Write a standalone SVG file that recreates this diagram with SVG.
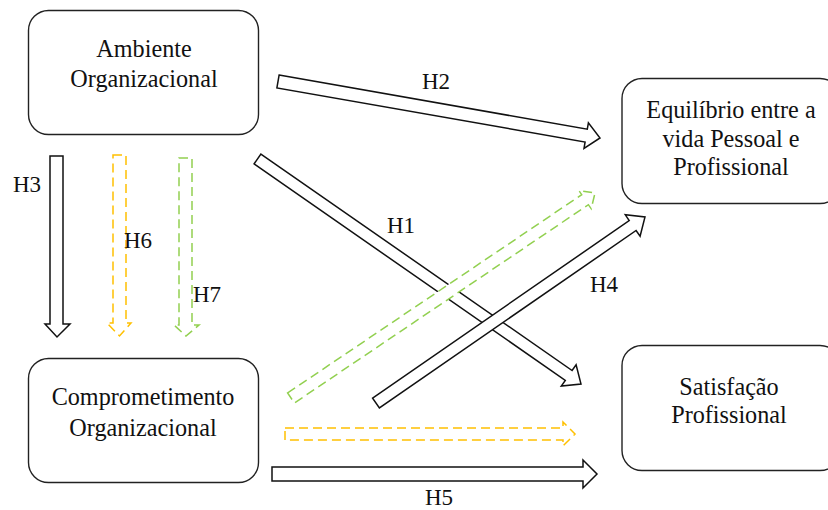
<svg xmlns="http://www.w3.org/2000/svg" width="828" height="510" viewBox="0 0 828 510">
<style>
.box{fill:#fff;stroke:#222;stroke-width:1.4}
.t{font-family:'Liberation Serif','Times New Roman',Times,'DejaVu Serif',serif;font-size:24.2px;fill:#111;text-anchor:middle}
.lbl{font-family:'Liberation Serif','Times New Roman',Times,'DejaVu Serif',serif;font-size:23px;fill:#111}
.blk{fill:#fff;stroke:#111;stroke-width:1.5;stroke-linejoin:miter}
.yel{fill:#fff;stroke:#FFC000;stroke-width:1.5;stroke-dasharray:9 5}
.grn{fill:#fff;stroke:#92D050;stroke-width:1.5;stroke-dasharray:9 5}
</style>
<rect width="828" height="510" fill="#fff"/>
<g id="connectors">
  <polygon id="H3" class="blk" points="50,156 63,156 63,324 70,324 57,337 45,324 50,324"/>
  <polygon id="H6" class="yel" points="113,155 126,155 126,323 131,323 119.5,336 107,323 113,323"/>
  <polygon id="H7" class="grn" points="179,158 192,158 192,325 199,325 186,336 174,325 179,325"/>
  <polygon id="H2" class="blk" points="279.1,75.1 587.3,129.2 588.4,122.8 600,138 584,148.4 585.1,142 276.9,87.9"/>
  <polygon id="H1" class="blk" points="260.9,154.1 572.1,370.5 576.1,364.8 581,384 561.3,386.1 565.3,380.4 254.1,163.9"/>
  <polygon id="H7d" class="grn" points="287.6,393 581.7,194.7 578.9,190.6 595,193 591.2,208.8 588.4,204.7 294.4,403"/>
  <polygon id="H4" class="blk" points="372.6,398.1 629.2,220.6 625.3,214.8 645,217 640.1,236.2 636.1,230.5 379.4,407.9"/>
  <polygon id="H6h" class="yel" points="285,428 563,428 563,422 575,434 563,446 563,440 285,440"/>
  <polygon id="H5" class="blk" points="272,467 583,467 583,460 597,474 583,488 583,481 272,481"/>
  <text class="lbl" x="13" y="192">H3</text>
  <text class="lbl" x="124" y="248">H6</text>
  <text class="lbl" x="193" y="302">H7</text>
  <text class="lbl" x="422" y="89">H2</text>
  <text class="lbl" x="387" y="233">H1</text>
  <text class="lbl" x="590" y="292">H4</text>
  <text class="lbl" x="425" y="505">H5</text>
</g>
<g id="ambiente">
  <rect class="box" x="28.5" y="10.5" width="230" height="124" rx="20"/>
  <text class="t" x="144" y="57">Ambiente</text>
  <text class="t" x="144" y="87">Organizacional</text>
</g>
<g id="comprometimento">
  <rect class="box" x="28.5" y="358.5" width="230" height="124" rx="20"/>
  <text class="t" x="143" y="405">Comprometimento</text>
  <text class="t" x="143" y="436">Organizacional</text>
</g>
<g id="equilibrio">
  <rect class="box" x="622" y="78.5" width="218" height="125" rx="20"/>
  <text class="t" x="731" y="118">Equilíbrio entre a</text>
  <text class="t" x="731" y="147">vida Pessoal e</text>
  <text class="t" x="731" y="175">Profissional</text>
</g>
<g id="satisfacao">
  <rect class="box" x="622" y="345.5" width="218" height="125" rx="20"/>
  <text class="t" x="729" y="395">Satisfação</text>
  <text class="t" x="729" y="423">Profissional</text>
</g>
</svg>
